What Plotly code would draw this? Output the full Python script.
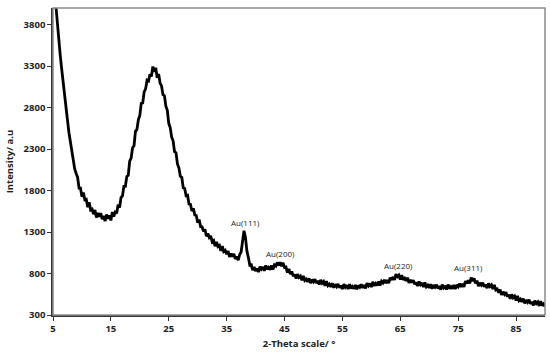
import plotly.graph_objects as go

x_start = 5.0
x_step = 0.25
intensity = [
    # 5.00 - 9.00
    4425, 4205, 4005, 3800, 3630, 3430, 3265, 3090, 2940, 2775, 2650, 2500, 2390, 2255, 2175, 2060, 2005,
    # 9.25 - 24.00
    1960, 1830, 1830, 1725, 1775, 1690, 1695, 1600, 1660, 1565, 1575, 1515, 1565, 1475, 1530, 1485,
    1527, 1455, 1495, 1430, 1512, 1460, 1499, 1440, 1540, 1485, 1540, 1525, 1630, 1595, 1715, 1735,
    1850, 1850, 1970, 1985, 2155, 2190, 2315, 2340, 2515, 2535, 2655, 2705, 2850, 2855, 2990, 3025,
    3130, 3120, 3200, 3175, 3295, 3230, 3280, 3160, 3205, 3095, 3060, 2955,
    # 24.25 - 37.00
    2943, 2816, 2767, 2610, 2560, 2445, 2400, 2268, 2256, 2120, 2074, 1972, 1959, 1834, 1826, 1738,
    1743, 1636, 1632, 1554, 1585, 1507, 1500, 1413, 1451, 1365, 1364, 1307, 1334, 1249, 1281, 1233,
    1253, 1181, 1197, 1129, 1182, 1127, 1140, 1073, 1131, 1065, 1079, 1032, 1070, 1000, 1040, 1005,
    1036, 976, 1005, 960,
    # 37.25 - 39.50  Au(111)
    1030, 1060, 1190, 1315, 1235, 1070, 995, 900, 905, 840,
    # 39.75 - 46.00  Au(200)
    879, 829, 860, 818, 883, 853, 878, 832, 897, 852, 874, 845, 896, 848, 904, 890,
    934, 899, 935, 888, 928, 873, 878, 812, 857, 792,
    # 46.25 - 63.00
    824, 769, 790, 738, 793, 753, 770, 717, 772, 717, 734, 700, 741, 683, 726, 700,
    731, 684, 712, 668, 723, 683, 703, 652, 708, 654, 672, 640, 683, 628, 670, 642,
    674, 627, 656, 613, 671, 635, 659, 612, 672, 622, 644, 615, 662, 610, 657, 635,
    670, 627, 660, 620, 684, 653, 680, 637, 700, 654, 680, 655, 705, 656, 706, 686,
    724, 684, 720, 683,
    # 63.25 - 67.00  Au(220)
    750, 723, 758, 722, 792, 761, 780, 727, 780, 724, 744, 710, 749, 688, 724, 690,
    # 67.25 - 76.00
    719, 669, 695, 648, 704, 665, 686, 637, 694, 640, 659, 627, 671, 616, 660, 635,
    666, 619, 649, 606, 665, 629, 653, 607, 667, 618, 642, 615, 663, 613, 662, 640,
    679, 639, 676, 640,
    # 76.25 - 79.00  Au(311)
    708, 681, 716, 682, 752, 710, 740, 680, 713, 648, 689, 660,
    # 79.25 - 90.00
    689, 639, 668, 623, 680, 643, 663, 612, 662, 602, 612, 570, 606, 543, 580, 548,
    574, 521, 545, 496, 549, 508, 527, 475, 529, 474, 491, 457, 498, 440, 481, 453,
    483, 434, 461, 416, 473, 438, 457, 409, 466, 414, 434, 403,
]
two_theta = [x_start + x_step * i for i in range(len(intensity))]

x_ticks = [5, 15, 25, 35, 45, 55, 65, 75, 85]
y_ticks = [300, 800, 1300, 1800, 2300, 2800, 3300, 3800]

peak_labels = ["Au(111)", "Au(200)", "Au(220)", "Au(311)"]
peak_x = [38.2, 44.3, 64.7, 76.8]
peak_y = [1411, 1037, 892, 868]

font_family = "Open Sans, Liberation Sans, sans-serif"

fig = go.Figure()
fig.add_trace(go.Scatter(
    x=two_theta, y=intensity, mode="lines",
    line=dict(color="black", width=2.8),
    showlegend=False, hoverinfo="skip",
))

for t, px, py in zip(peak_labels, peak_x, peak_y):
    fig.add_annotation(x=px, y=py, text=t, showarrow=False,
                       font=dict(size=8, color="#222", family=font_family))

fig.add_shape(type="rect", xref="paper", yref="paper", x0=0, y0=0, x1=1, y1=1,
              line=dict(color="#8a8a8a", width=1.5), layer="above")

fig.update_layout(
    width=550, height=353,
    margin=dict(l=53, r=5, t=8, b=38),
    paper_bgcolor="white", plot_bgcolor="white",
    font=dict(family=font_family, color="#222"),
    xaxis=dict(
        range=[5, 90], tickvals=x_ticks, ticktext=[str(v) for v in x_ticks],
        showgrid=False, zeroline=False, showline=True, linecolor="#333", linewidth=1.5,
        ticks="outside", ticklen=4, tickcolor="#333",
        tickfont=dict(size=9.5, family=font_family, color="#222", weight="bold"),
        title=dict(text="<b>2-Theta scale/ °</b>", font=dict(size=9.5), standoff=6),
    ),
    yaxis=dict(
        range=[300, 4000], tickvals=y_ticks, ticktext=[str(v) for v in y_ticks],
        showgrid=False, zeroline=False, showline=True, linecolor="#333", linewidth=1.5,
        ticks="outside", ticklen=4, tickcolor="#333",
        tickfont=dict(size=9.5, family=font_family, color="#222", weight="bold"),
        title=dict(text="<b>Intensity/ a.u</b>", font=dict(size=9.5), standoff=8),
    ),
)

fig.write_html("out.html", config={"displayModeBar": False},
               post_script="document.body.style.margin='0';")
